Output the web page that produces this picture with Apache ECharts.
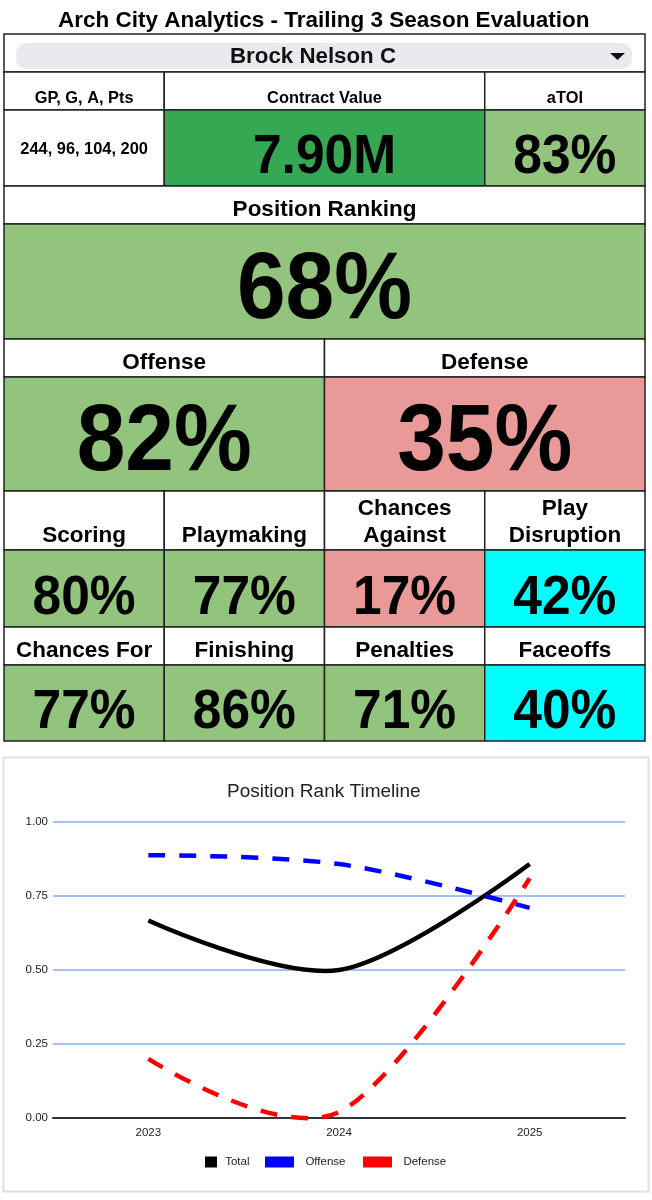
<!DOCTYPE html>
<html>
<head>
<meta charset="utf-8">
<title>Arch City Analytics</title>
<script src="https://cdn.jsdelivr.net/npm/echarts@6/dist/echarts.min.js"></script>
<style>
html, body { margin: 0; padding: 0; background: #fff; }
#chart { width: 652px; height: 1200px; }
</style>
</head>
<body>
<div id="chart"></div>
<script>
// data
var pageTitle = 'Arch City Analytics - Trailing 3 Season Evaluation';
var playerName = 'Brock Nelson C';
var summaryLabels = ['GP, G, A, Pts', 'Contract Value', 'aTOI'];
var statLine = '244, 96, 104, 200';
var contractValue = '7.90M';
var atoiPct = 83;
var rankLabel = 'Position Ranking';
var rankPct = 68;
var splitLabels = ['Offense', 'Defense'];
var splitPct = [82, 35];
var detailLabels1 = ['Scoring', 'Playmaking', 'Chances\nAgainst', 'Play\nDisruption'];
var detailPct1 = [80, 77, 17, 42];
var detailLabels2 = ['Chances For', 'Finishing', 'Penalties', 'Faceoffs'];
var detailPct2 = [77, 86, 71, 40];

var chartTitle = 'Position Rank Timeline';
var seasons = ['2023', '2024', '2025'];
var totalRank = [0.667, 0.5, 0.858];
var offenseRank = [0.888, 0.858, 0.71];
var defenseRank = [0.20, 0.02, 0.81];

var FONT = '"Liberation Sans", Arial, sans-serif';
var GREEN = '#93c47d', DARK_GREEN = '#34a853', PINK = '#ea9999', CYAN = '#00ffff';

function pctColor(v) {
    if (v <= 35) return PINK;
    if (v < 60) return CYAN;
    return GREEN;
}

// row edges of the table, in table units (1 unit = 1px)
var rowEdges = [0, 38, 76, 152, 190, 305, 343, 457, 516, 593, 631, 707];
var cells = [];

function addCell(c0, c1, row, text, fill, size) {
    cells.push({c0: c0, c1: c1, y0: rowEdges[row], y1: rowEdges[row + 1], text: text, fill: fill, size: size});
}
function addHeads(labels, row, size) {
    var w = 4 / labels.length;
    labels.forEach(function (t, i) { addCell(i * w, (i + 1) * w, row, t, '#fff', size); });
}
function addPcts(vals, row, size) {
    var w = 4 / vals.length;
    vals.forEach(function (v, i) { addCell(i * w, (i + 1) * w, row, v + '%', pctColor(v), size); });
}

addCell(0, 4, 0, '', '#fff', 0);
addCell(0, 1, 1, summaryLabels[0], '#fff', 16.4);
addCell(1, 3, 1, summaryLabels[1], '#fff', 16.4);
addCell(3, 4, 1, summaryLabels[2], '#fff', 16.4);
addCell(0, 1, 2, statLine, '#fff', 16.4);
addCell(1, 3, 2, contractValue, DARK_GREEN, 51.5);
addCell(3, 4, 2, atoiPct + '%', pctColor(atoiPct), 51.5);
addCell(0, 4, 3, rankLabel, '#fff', 22.5);
addCell(0, 4, 4, rankPct + '%', pctColor(rankPct), 87.5);
addHeads(splitLabels, 5, 22.5);
addPcts(splitPct, 6, 87.5);
addHeads(detailLabels1, 7, 22.5);
addPcts(detailPct1, 8, 51.5);
addHeads(detailLabels2, 9, 22.5);
addPcts(detailPct2, 10, 51.5);

function renderCell(params, api) {
    var c = cells[params.dataIndex];
    var a = api.coord([c.c0, c.y0]);
    var b = api.coord([c.c1, c.y1]);
    var isStat = c.text === statLine;
    var isHead = c.fill === '#fff' && !isStat;
    var isBig = c.size > 50;
    var mid = (a[1] + b[1]) / 2;
    var y = isHead ? b[1] - 1 : isBig ? mid + (c.size > 80 ? 3 : 6) + c.size * 0.08 : mid + 1;
    return {
        type: 'group',
        children: [{
            type: 'rect',
            shape: {x: a[0], y: a[1], width: b[0] - a[0], height: b[1] - a[1]},
            style: {fill: c.fill, stroke: '#222', lineWidth: 1.5}
        }, {
            type: 'text',
            x: (a[0] + b[0]) / 2,
            y: y,
            scaleY: isBig ? 1.08 : 1,
            style: {
                text: c.text,
                x: 0,
                y: 0,
                align: 'center',
                verticalAlign: isHead ? 'bottom' : 'middle',
                fontFamily: FONT,
                fontWeight: 'bold',
                fontSize: c.size,
                lineHeight: c.size + 4,
                fill: '#000'
            }
        }]
    };
}

// the source chart's curve leans through the middle point, so minima sit before it
var TANGENT = 0.16;
echarts.graphic.registerShape('timelineCurve', echarts.graphic.extendShape({
    shape: {points: []},
    buildPath: function (ctx, shape) {
        var p = shape.points;
        ctx.moveTo(p[0][0], p[0][1]);
        for (var i = 0; i < p.length - 1; i++) {
            var prev = p[i - 1], cur = p[i], next = p[i + 1], after = p[i + 2];
            var c1 = prev ? [cur[0] + (next[0] - prev[0]) * TANGENT, cur[1] + (next[1] - prev[1]) * TANGENT] : cur;
            var c2 = after ? [next[0] - (after[0] - cur[0]) * TANGENT, next[1] - (after[1] - cur[1]) * TANGENT] : next;
            ctx.bezierCurveTo(c1[0], c1[1], c2[0], c2[1], next[0], next[1]);
        }
    }
}));

function curveSeries(name, values, color, dashed) {
    return {
        name: name, type: 'custom', xAxisIndex: 1, yAxisIndex: 1,
        itemStyle: {color: color},
        data: values.map(function (v, i) { return [seasons[i], v]; }),
        encode: {x: 0, y: 1},
        renderItem: function (params, api) {
            if (params.dataIndex !== 0) return null;
            return {
                type: 'timelineCurve',
                shape: {points: values.map(function (v, i) { return api.coord([i, v]); })},
                style: {fill: 'none', stroke: color, lineWidth: 4.5, lineDash: dashed ? [17, 14] : null}
            };
        }
    };
}

function legendFor(name, color, left, width, gap) {
    return {
        left: left, top: 1151, itemWidth: width, itemHeight: 11, itemGap: 8,
        padding: 5,
        data: [{name: name, icon: 'rect', itemStyle: {color: color, borderWidth: 0}}],
        selectedMode: false,
        formatter: function (n) { return gap + n; },
        textStyle: {fontFamily: FONT, fontSize: 11.5, color: '#222'}
    };
}

var chart = echarts.init(document.getElementById('chart'), null, {renderer: 'canvas'});
chart.setOption({
    animation: false,
    backgroundColor: '#fff',
    title: [{
        text: pageTitle, left: 53, top: 4,
        textStyle: {fontFamily: FONT, fontWeight: 'bold', fontSize: 22.5, color: '#000'}
    }, {
        text: chartTitle, left: 222, top: 777,
        textStyle: {fontFamily: FONT, fontWeight: 'normal', fontSize: 19, color: '#222'}
    }],
    legend: [
        legendFor('Total', '#000', 200, 12, ' '),
        legendFor('Offense', '#0000ff', 260, 29, '  '),
        legendFor('Defense', '#ff0000', 358, 29, '  ')
    ],
    grid: [
        {left: 4, top: 34, width: 641, height: 707},
        {left: 53, top: 822, width: 572, height: 296}
    ],
    xAxis: [{
        gridIndex: 0, type: 'value', min: 0, max: 4, show: false
    }, {
        gridIndex: 1, type: 'category', data: seasons, boundaryGap: true,
        axisLine: {lineStyle: {color: '#333', width: 2}},
        axisTick: {show: false},
        axisLabel: {fontFamily: FONT, fontSize: 11.5, color: '#222', margin: 9},
        splitLine: {show: false}
    }],
    yAxis: [{
        gridIndex: 0, type: 'value', min: 0, max: 707, inverse: true, show: false
    }, {
        gridIndex: 1, type: 'value', min: 0, max: 1, interval: 0.25,
        axisLine: {show: false},
        axisTick: {show: false},
        axisLabel: {
            fontFamily: FONT, fontSize: 11.5, color: '#222', margin: 5,
            formatter: function (v) { return v.toFixed(2); }
        },
        splitLine: {lineStyle: {color: '#a4c2f4', width: 2}}
    }],
    series: [{
        type: 'custom', xAxisIndex: 0, yAxisIndex: 0, silent: true,
        renderItem: renderCell,
        data: cells.map(function (c) { return [c.c0, c.y0, c.c1, c.y1]; }),
        encode: {x: [0, 2], y: [1, 3]},
        clip: false
    },
    curveSeries('Total', totalRank, '#000', false),
    curveSeries('Offense', offenseRank, '#0000ff', true),
    curveSeries('Defense', defenseRank, '#ff0000', true)],
    graphic: [{
        type: 'rect', z: 10, shape: {x: 16, y: 43, width: 616, height: 26, r: 10},
        style: {fill: '#e8eaed'}
    }, {
        type: 'text', z: 11, style: {
            text: playerName, x: 313, y: 57, align: 'center', verticalAlign: 'middle',
            fontFamily: FONT, fontWeight: 'bold', fontSize: 22.3, fill: '#111'
        }
    }, {
        type: 'polygon', z: 11, shape: {points: [[610, 53], [625, 53], [617.5, 60]]},
        style: {fill: '#111'}
    }, {
        type: 'rect', z: 0, shape: {x: 3.5, y: 757.5, width: 645, height: 434},
        style: {fill: 'none', stroke: '#e0e0e0', lineWidth: 2}
    }]
});
</script>
</body>
</html>
